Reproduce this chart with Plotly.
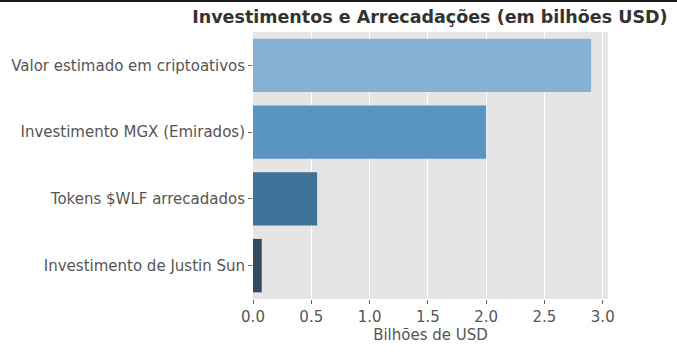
import plotly.graph_objects as go

categories = ["Valor estimado em criptoativos", "Investimento MGX (Emirados)",
              "Tokens $WLF arrecadados", "Investimento de Justin Sun"]
values = [2.9, 2.0, 0.55, 0.075]
colors = ["#89b2d2", "#5a95c0", "#3e7299", "#36495f"]
x_ticks = [0.0, 0.5, 1.0, 1.5, 2.0, 2.5, 3.0]
x_tick_labels = ["0.0", "0.5", "1.0", "1.5", "2.0", "2.5", "3.0"]

H = 353
MT, MB = 32, 54
plot_h = H - MT - MB

fig = go.Figure(go.Bar(
    y=categories, x=values, orientation="h",
    marker=dict(color=colors, line=dict(width=0)),
    width=0.8,
))

fig.update_layout(
    width=677, height=H,
    margin=dict(l=253, r=69, t=MT, b=MB, autoexpand=False),
    paper_bgcolor="white", plot_bgcolor="#e5e5e5",
    font=dict(family="DejaVu Sans", size=15, color="#555555"),
    title=dict(text="<b>Investimentos e Arrecadações (em bilhões USD)</b>",
               x=0.635, xanchor="center", y=0.952, yanchor="middle",
               font=dict(size=17.5, color="#333333")),
    showlegend=False,
    shapes=[dict(type="line", xref="paper", yref="paper", x0=-1, x1=2,
                 y0=1 + MT / plot_h, y1=1 + MT / plot_h,
                 line=dict(color="#1a1a1a", width=4))],
)
fig.update_xaxes(range=[0, 3.045], tickvals=x_ticks, ticktext=x_tick_labels,
                 showgrid=True, gridcolor="white", gridwidth=1, zeroline=False,
                 ticks="outside", ticklen=4, tickcolor="#666666", automargin=False,
                 title=dict(text="Bilhões de USD", standoff=3, font=dict(size=15, color="#555555")))
fig.update_yaxes(categoryorder="array", categoryarray=categories, autorange="reversed",
                 showgrid=False, zeroline=False, ticks="outside", ticklen=4, tickcolor="#666666",
                 automargin=False)

fig.write_html("out.html")
